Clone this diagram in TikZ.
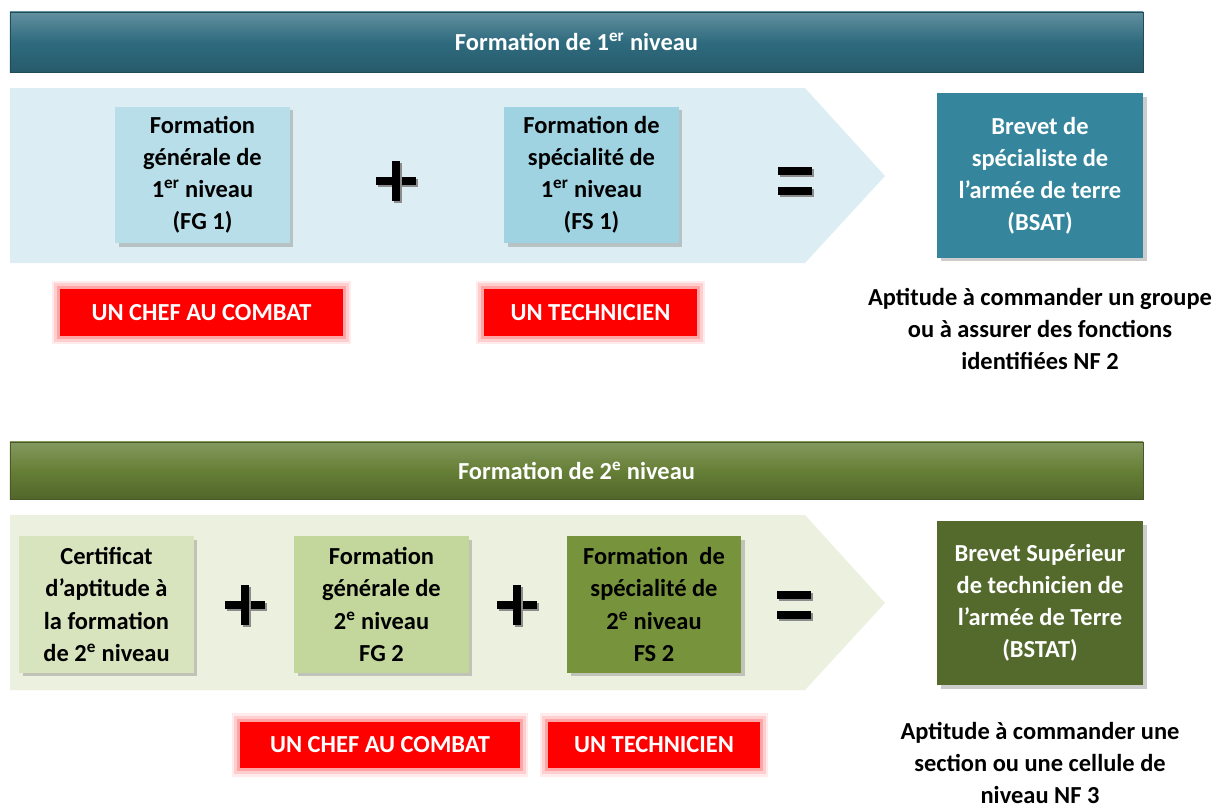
\documentclass[tikz,border=0pt]{standalone}
\usepackage{fontspec}
\setmainfont{Carlito}
\usetikzlibrary{shadows}

\definecolor{titreA}{HTML}{2E6B7E}
\definecolor{titreB}{HTML}{667F36}
\definecolor{bandeA}{HTML}{DCEEF4}
\definecolor{bandeB}{HTML}{EBF1DE}
\definecolor{fgun}{HTML}{B8DEE9}
\definecolor{fsun}{HTML}{9FD3E1}
\definecolor{bsat}{HTML}{35869C}
\definecolor{caf}{HTML}{D8E4BE}
\definecolor{fgdeux}{HTML}{C3D69B}
\definecolor{fsdeux}{HTML}{77933C}
\definecolor{bstat}{HTML}{536A2C}
\definecolor{rouge}{HTML}{FF0000}

\tikzset{
    txt/.style={font=\bfseries\fontsize{17.4}{22.8}\selectfont, align=center, inner sep=0pt},
    titre/.style={txt, text=white, minimum width=28.325cm, minimum height=1.5cm},
    boite/.style={txt, minimum width=4.35cm, minimum height=3.4cm,
        drop shadow={shadow xshift=2.5pt, shadow yshift=-2.5pt, opacity=0.4}},
    brevet/.style={txt, text=white, minimum width=5.15cm, minimum height=4.1cm,
        drop shadow={shadow xshift=2.5pt, shadow yshift=-2.5pt, opacity=0.4}},
    alerte/.style={txt, text=white, fill=rouge, minimum height=1.17cm,
        preaction={draw=rouge, line width=12pt, opacity=0.08},
        preaction={draw=rouge, line width=8pt, opacity=0.12},
        preaction={draw=rouge, line width=4pt, opacity=0.2}},
    signe/.style={line width=6pt, black,
        preaction={draw=black!45, line width=6pt, transform canvas={xshift=1.5pt, yshift=-1.5pt}}}
}

\begin{document}
\begin{tikzpicture}[x=0.025cm, y=-0.025cm]
    \useasboundingbox (0,0) rectangle (1220,808);

    % niveau 1
    \node[titre, draw=titreA!70!black, top color=titreA!75!white, bottom color=titreA!85!black, middle color=titreA] (titre1) at (576.5,42) {Formation de 1\textsuperscript{er} niveau};
    \fill[bandeA] (10,88) -- (805,88) -- (885,176) -- (805,263) -- (10,263) -- cycle;

    \node[boite, fill=fgun] (fg1) at (202.5,175) {Formation\\générale de\\1\textsuperscript{er} niveau\\(FG 1)};
    \node[boite, fill=fsun] (fs1) at (591.5,175) {Formation de\\spécialité de\\1\textsuperscript{er} niveau\\(FS 1)};
    \node[brevet, fill=bsat] (bsat) at (1040,175.5) {Brevet de\\spécialiste de\\l’armée de terre\\(BSAT)};

    \coordinate (plus1) at (396,181);
    \coordinate (egal1) at (795,181);
    \draw[signe] (plus1) ++(-20,0) -- ++(40,0);
    \draw[signe] (plus1) ++(0,-20) -- ++(0,40);
    \draw[signe] (egal1) ++(-17,-10) -- ++(34,0);
    \draw[signe] (egal1) ++(-17,10) -- ++(34,0);

    \node[alerte, minimum width=7.075cm] (chef1) at (201.5,312.5) {UN CHEF AU COMBAT};
    \node[alerte, minimum width=5.325cm] (tech1) at (590.5,312.5) {UN TECHNICIEN};
    \node[txt] (apt1) at (1040,329) {Aptitude à commander un groupe\\ou à assurer des fonctions\\identifiées NF 2};

    % niveau 2
    \node[titre, minimum height=1.425cm, draw=titreB!70!black, top color=titreB!80!white, bottom color=titreB!80!black, middle color=titreB] (titre2) at (576.5,470.5) {Formation de 2\textsuperscript{e} niveau};
    \fill[bandeB] (10,515) -- (805,515) -- (885,603) -- (805,690) -- (10,690) -- cycle;

    \node[boite, fill=caf] (caf) at (106.5,604.5) {Certificat\\d’aptitude à\\la formation\\de 2\textsuperscript{e} niveau};
    \node[boite, fill=fgdeux] (fg2) at (381.5,604.5) {Formation\\générale de\\2\textsuperscript{e} niveau\\FG 2};
    \node[boite, fill=fsdeux] (fs2) at (654,604.5) {Formation\ \ de\\spécialité de\\2\textsuperscript{e} niveau\\FS 2};
    \node[brevet, fill=bstat] (bstat) at (1040,603) {Brevet Supérieur\\de technicien de\\l’armée de Terre\\(BSTAT)};

    \coordinate (plus2) at (245,605);
    \coordinate (plus3) at (517,605);
    \coordinate (egal2) at (794,605);
    \draw[signe] (plus2) ++(-20,0) -- ++(40,0);
    \draw[signe] (plus2) ++(0,-20) -- ++(0,40);
    \draw[signe] (plus3) ++(-20,0) -- ++(40,0);
    \draw[signe] (plus3) ++(0,-20) -- ++(0,40);
    \draw[signe] (egal2) ++(-17,-10) -- ++(34,0);
    \draw[signe] (egal2) ++(-17,10) -- ++(34,0);

    \node[alerte, minimum width=7cm] (chef2) at (380,745) {UN CHEF AU COMBAT};
    \node[alerte, minimum width=5.3cm] (tech2) at (654,745) {UN TECHNICIEN};
    \node[txt] (apt2) at (1040,763) {Aptitude à commander une\\section ou une cellule de\\niveau NF 3};
\end{tikzpicture}
\end{document}
